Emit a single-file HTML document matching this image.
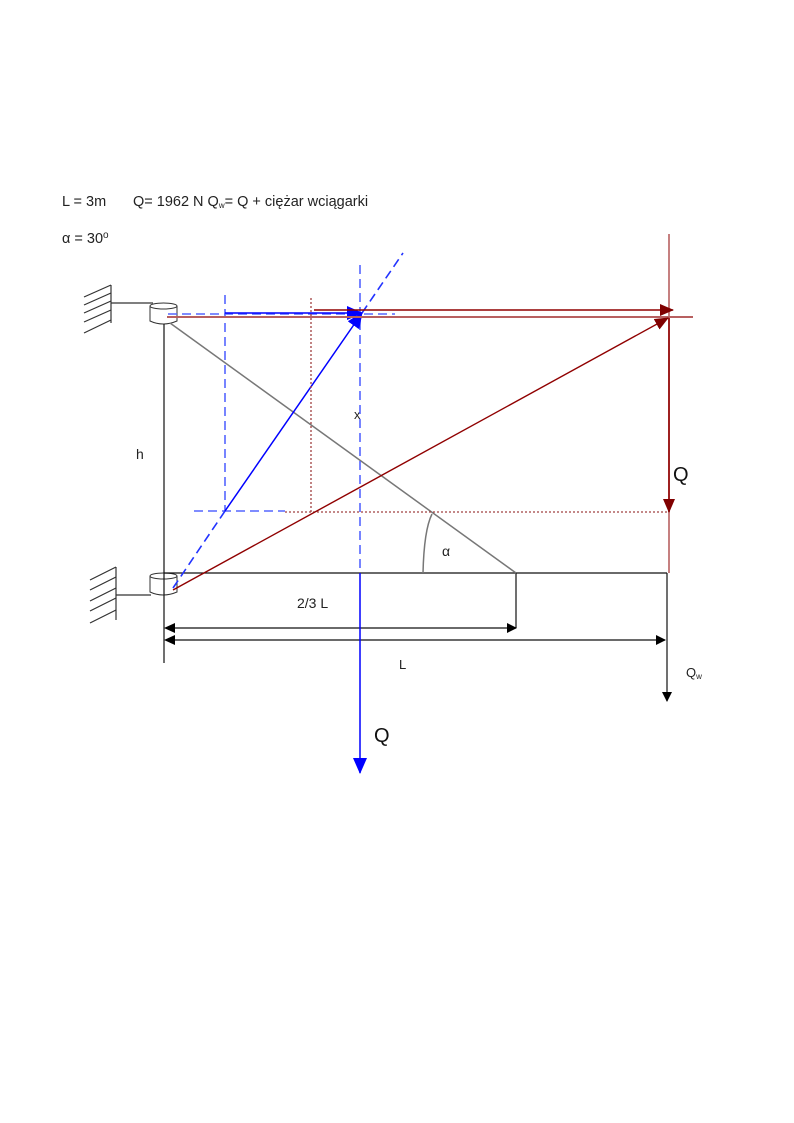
<!DOCTYPE html>
<html><head><meta charset="utf-8"><style>
html,body{margin:0;padding:0;background:#fff;width:794px;height:1123px;overflow:hidden}
svg{display:block}
text{font-family:"Liberation Sans",sans-serif;fill:#222}
</style></head><body>
<svg width="794" height="1123" viewBox="0 0 794 1123" xmlns="http://www.w3.org/2000/svg">
<defs>
<marker id="ab" markerWidth="10" markerHeight="10" refX="9" refY="5" orient="auto" markerUnits="userSpaceOnUse"><path d="M0,0 L10,5 L0,10 z" fill="#000"/></marker>
<marker id="ablue" markerWidth="16" markerHeight="14" refX="15" refY="7" orient="auto" markerUnits="userSpaceOnUse"><path d="M0,0 L16,7 L0,14 z" fill="#0000ff"/></marker>
<marker id="ared" markerWidth="14" markerHeight="12" refX="13" refY="6" orient="auto" markerUnits="userSpaceOnUse"><path d="M0,0 L14,6 L0,12 z" fill="#800000"/></marker>
</defs>
<text x="62" y="206" font-size="14.5">L = 3m</text>
<text x="133" y="206" font-size="14.5">Q= 1962 N  Q<tspan font-size="8" dy="2">w</tspan><tspan dy="-2">= Q + ciężar wciągarki</tspan></text>
<text x="62" y="243" font-size="14.5">α = 30<tspan font-size="10" dy="-5">o</tspan></text>
<g stroke="#333" stroke-width="1.2" fill="none">
<line x1="111" y1="285" x2="111" y2="323"/>
<line x1="84" y1="297" x2="111" y2="285"/><line x1="84" y1="305" x2="111" y2="293"/><line x1="84" y1="313" x2="111" y2="301"/><line x1="84" y1="322" x2="111" y2="310"/><line x1="84" y1="333" x2="111" y2="320"/>
<line x1="111" y1="303" x2="153" y2="303"/>
<line x1="116" y1="567" x2="116" y2="620"/>
<line x1="90" y1="580" x2="116" y2="567"/><line x1="90" y1="590" x2="116" y2="577"/><line x1="90" y1="601" x2="116" y2="588"/><line x1="90" y1="611" x2="116" y2="598"/><line x1="90" y1="623" x2="116" y2="610"/>
<line x1="116" y1="595" x2="151" y2="595"/>
</g>
<g stroke="#333" stroke-width="1" fill="#fff">
<path d="M150,306 L150,321 Q163,327 177,321 L177,306"/><ellipse cx="163.5" cy="306" rx="13.5" ry="3"/>
<path d="M150,576 L150,592 Q163,598 177,592 L177,576"/><ellipse cx="163.5" cy="576" rx="13.5" ry="3"/>
</g>
<g stroke="#111" stroke-width="1.2" fill="none">
<line x1="164" y1="324" x2="164" y2="663"/>
<line x1="164" y1="573" x2="667" y2="573"/>
<line x1="516" y1="573" x2="516" y2="628"/>
<line x1="667" y1="573" x2="667" y2="701" marker-end="url(#ab)"/>
<line x1="166" y1="628" x2="516" y2="628" marker-end="url(#ab)"/>
<line x1="166" y1="640" x2="665" y2="640" marker-end="url(#ab)"/>
</g>
<path d="M164,628 L175,623 L175,633 z" fill="#000"/>
<path d="M164,640 L175,635 L175,645 z" fill="#000"/>
<line x1="170" y1="323" x2="516" y2="573" stroke="#777" stroke-width="1.5"/>
<path d="M423,573 Q424,530 432,514" stroke="#777" stroke-width="1.5" fill="none"/>
<text x="297" y="608" font-size="14">2/3 L</text>
<text x="399" y="669" font-size="13">L</text>
<text x="136" y="459" font-size="14">h</text>
<text x="354" y="419" font-size="13">x</text>
<text x="442" y="556" font-size="14">α</text>
<text x="686" y="677" font-size="13">Q<tspan font-size="8" dy="2">w</tspan></text>
<g stroke="#5566ff" stroke-width="1.6" fill="none" stroke-dasharray="9,5">
<line x1="168" y1="314" x2="395" y2="314"/>
<line x1="225" y1="295" x2="225" y2="511"/>
<line x1="194" y1="511" x2="285" y2="511"/>
<line x1="360" y1="265" x2="360" y2="573"/>
<line x1="173" y1="588" x2="225" y2="511" stroke="#2233ff"/>
<line x1="362" y1="313" x2="403" y2="253" stroke="#2233ff"/>
</g>
<line x1="360" y1="573" x2="360" y2="773" stroke="#0000ff" stroke-width="1.5" marker-end="url(#ablue)"/>
<line x1="225" y1="313" x2="362" y2="313" stroke="#0000ff" stroke-width="1.5" marker-end="url(#ablue)"/>
<line x1="225" y1="511" x2="362" y2="313" stroke="#0000ff" stroke-width="1.5" marker-end="url(#ablue)"/>
<text x="374" y="742" font-size="20" style="fill:#111">Q</text>
<g fill="none">
<line x1="167" y1="317" x2="693" y2="317" stroke="#b86060" stroke-width="2"/>
<line x1="669" y1="234" x2="669" y2="573" stroke="#b86060" stroke-width="1.6"/>
<line x1="311" y1="298" x2="311" y2="512" stroke="#a04040" stroke-width="1.3" stroke-dasharray="2,2"/>
<line x1="285" y1="512" x2="669" y2="512" stroke="#a04040" stroke-width="1.3" stroke-dasharray="2,2"/>
<line x1="314" y1="310" x2="673" y2="310" stroke="#900000" stroke-width="1.4" marker-end="url(#ared)"/>
<line x1="669" y1="318" x2="669" y2="512" stroke="#900000" stroke-width="1.6" marker-end="url(#ared)"/>
<line x1="173" y1="590" x2="668" y2="318" stroke="#900000" stroke-width="1.4" marker-end="url(#ared)"/>
</g>
<text x="673" y="481" font-size="20" style="fill:#111">Q</text>
</svg>
</body></html>
